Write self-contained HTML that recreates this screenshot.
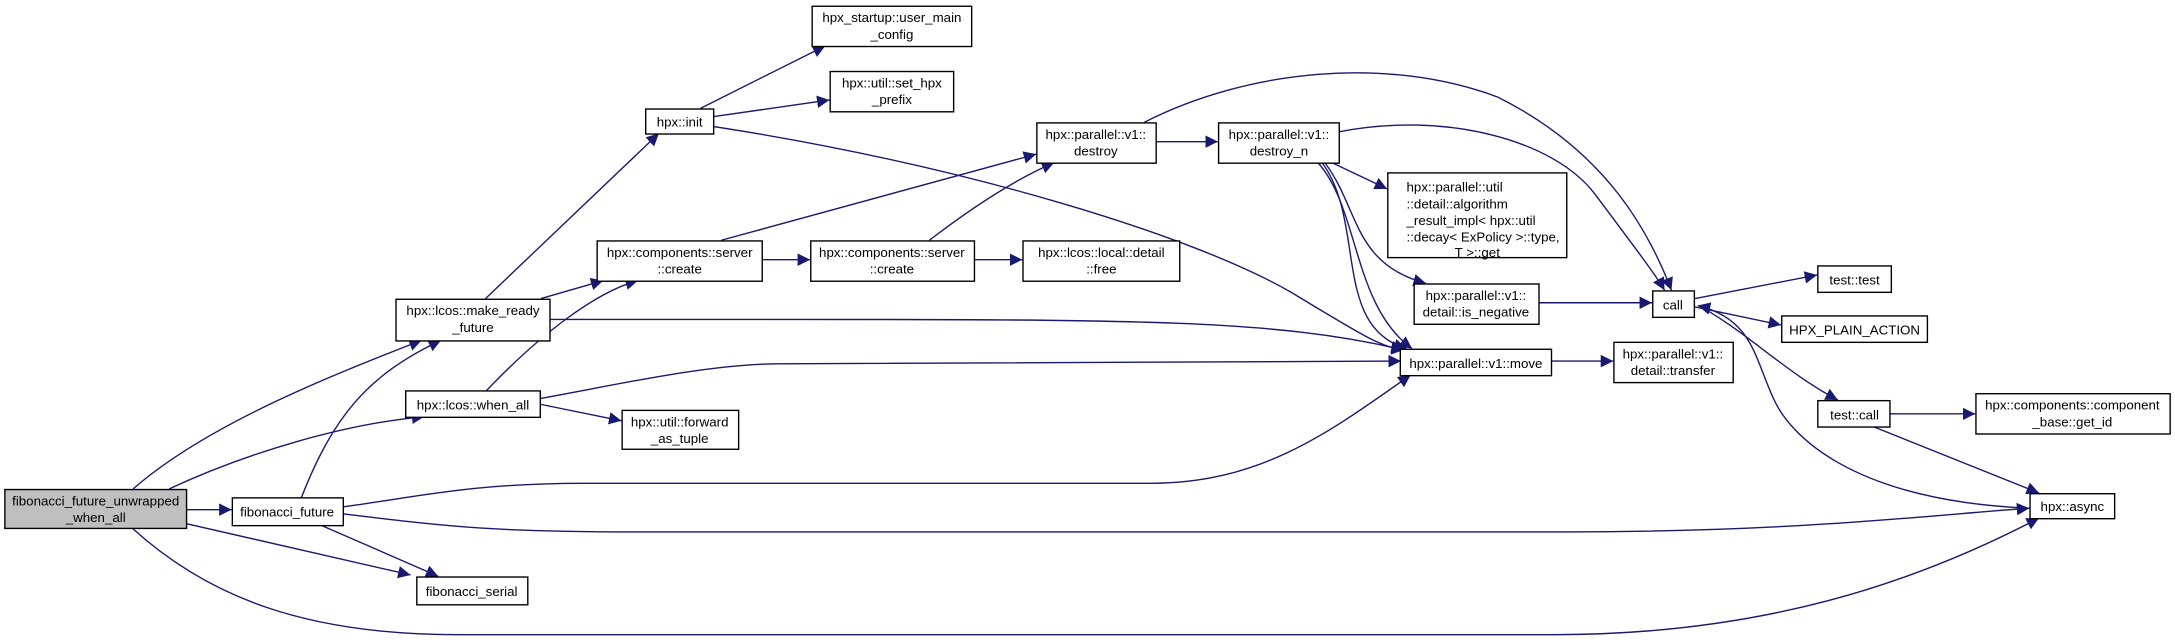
<!DOCTYPE html>
<html><head><meta charset="utf-8"><style>
html,body{margin:0;padding:0;background:#fff;}
svg{display:block;}
text{font-family:"Liberation Sans",Arial,sans-serif;font-size:9.6px;fill:#000;text-anchor:middle;}
.n{fill:#fff;stroke:#000;stroke-width:1;}
.e{fill:none;stroke:#191970;stroke-width:1;}
</style></head><body>
<svg width="2175" height="643" viewBox="0 0 1568 463" preserveAspectRatio="none" xmlns="http://www.w3.org/2000/svg">
<defs><marker id="a" viewBox="0 0 10 10" refX="10" refY="5" markerWidth="9" markerHeight="9" orient="auto" markerUnits="userSpaceOnUse"><path d="M0,0 L10,5 L0,10 z" fill="#191970"/></marker></defs>
<g class="e" marker-end="url(#a)">
<path d="M96,352 C150,305 240,270 304,245"/>
<path d="M122,352 C180,325 250,305 306,300"/>
<path d="M134,367 L167,367"/>
<path d="M134,377 L296,414"/>
<path d="M95,380 C150,430 220,457 330,457 L1120,457 C1270,457 1380,420 1470,373"/>
<path d="M217,359 C240,300 265,270 318,245"/>
<path d="M247,365 C300,358 340,348 420,348 L830,348 C910,348 960,310 1017,270"/>
<path d="M247,370 C330,380 360,383 460,383 L1130,383 C1300,383 1400,370 1463,366"/>
<path d="M231,378 L316,415"/>
<path d="M350,215 L475,96"/>
<path d="M390,215 L435,202"/>
<path d="M396,230 L550,230 C820,230 920,230 1012,252"/>
<path d="M350,282 C390,240 430,210 460,202"/>
<path d="M389,287 C440,278 510,262 560,262 L1010,260"/>
<path d="M389,291 L448,303"/>
<path d="M505,78 L595,33"/>
<path d="M514,84 L598,72"/>
<path d="M514,91 C700,120 860,170 930,210 C980,240 995,250 1012,252"/>
<path d="M520,173 L747,111"/>
<path d="M549,187 L584,187"/>
<path d="M670,173 C700,150 730,130 760,117"/>
<path d="M702,187 L737,187"/>
<path d="M833,102 L878,102"/>
<path d="M825,88 C900,50 1000,40 1080,70 C1160,110 1190,170 1205,209"/>
<path d="M965,95 C1040,80 1120,100 1150,140 C1180,180 1195,200 1200,209"/>
<path d="M960,117 L1000,136"/>
<path d="M955,117 C980,150 975,190 1028,204"/>
<path d="M953,117 C985,160 960,235 1014,251"/>
<path d="M950,117 C980,150 975,220 1018,251"/>
<path d="M1109,218 L1191,218"/>
<path d="M1118,260 L1163,260"/>
<path d="M1222,215 L1310,198"/>
<path d="M1222,221 L1284,234"/>
<path d="M1228,222 C1260,240 1290,270 1325,288"/>
<path d="M1463,366 C1330,360 1290,310 1280,290 C1265,260 1265,230 1224,220"/>
<path d="M1362,298 L1424,298"/>
<path d="M1350,307 L1470,355"/>
</g>
<rect x="3.5" y="352.5" width="131" height="28" fill="#bfbfbf" stroke="#000"/>
<text x="69" y="364">fibonacci_future_unwrapped</text><text x="69" y="376">_when_all</text>
<rect class="n" x="167.5" y="358.5" width="80" height="20"/><text x="207" y="372">fibonacci_future</text>
<rect class="n" x="300.5" y="415.5" width="80" height="20"/><text x="340" y="429">fibonacci_serial</text>
<rect class="n" x="285.5" y="215.5" width="111" height="30"/><text x="341" y="227">hpx::lcos::make_ready</text><text x="341" y="239">_future</text>
<rect class="n" x="292.5" y="281.5" width="97" height="19"/><text x="341" y="295">hpx::lcos::when_all</text>
<rect class="n" x="448.5" y="295.5" width="84" height="28"/><text x="490" y="307">hpx::util::forward</text><text x="490" y="319">_as_tuple</text>
<rect class="n" x="430.5" y="173.5" width="119" height="29"/><text x="490" y="185">hpx::components::server</text><text x="490" y="197">::create</text>
<rect class="n" x="584.5" y="173.5" width="118" height="29"/><text x="643" y="185">hpx::components::server</text><text x="643" y="197">::create</text>
<rect class="n" x="737.5" y="173.5" width="113" height="29"/><text x="794" y="185">hpx::lcos::local::detail</text><text x="794" y="197">::free</text>
<rect class="n" x="465.5" y="78.5" width="49" height="18"/><text x="490" y="91">hpx::init</text>
<rect class="n" x="585.5" y="4.5" width="115" height="29"/><text x="643" y="16">hpx_startup::user_main</text><text x="643" y="28">_config</text>
<rect class="n" x="598.5" y="51.5" width="89" height="29"/><text x="643" y="63">hpx::util::set_hpx</text><text x="643" y="75">_prefix</text>
<rect class="n" x="747.5" y="88.5" width="86" height="29"/><text x="790" y="100">hpx::parallel::v1::</text><text x="790" y="112">destroy</text>
<rect class="n" x="878.5" y="88.5" width="87" height="29"/><text x="922" y="100">hpx::parallel::v1::</text><text x="922" y="112">destroy_n</text>
<rect class="n" x="1000.5" y="124.5" width="129" height="61"/>
<text x="1014" y="138" style="text-anchor:start">hpx::parallel::util</text>
<text x="1014" y="150" style="text-anchor:start">::detail::algorithm</text>
<text x="1014" y="162" style="text-anchor:start">_result_impl&lt; hpx::util</text>
<text x="1014" y="174" style="text-anchor:start">::decay&lt; ExPolicy &gt;::type,</text>
<text x="1065" y="185">T &gt;::get</text>
<rect class="n" x="1019.5" y="204.5" width="90" height="29"/><text x="1064" y="216">hpx::parallel::v1::</text><text x="1064" y="228">detail::is_negative</text>
<rect class="n" x="1009.5" y="251.5" width="109" height="19"/><text x="1064" y="265">hpx::parallel::v1::move</text>
<rect class="n" x="1163.5" y="246.5" width="86" height="29"/><text x="1206" y="258">hpx::parallel::v1::</text><text x="1206" y="270">detail::transfer</text>
<rect class="n" x="1191.5" y="209.5" width="30" height="19"/><text x="1206" y="223">call</text>
<rect class="n" x="1310.5" y="191.5" width="53" height="19"/><text x="1337" y="205">test::test</text>
<rect class="n" x="1284.5" y="227.5" width="105" height="19"/><text x="1337" y="241">HPX_PLAIN_ACTION</text>
<rect class="n" x="1310.5" y="288.5" width="52" height="19"/><text x="1337" y="302">test::call</text>
<rect class="n" x="1424.5" y="283.5" width="140" height="29"/><text x="1494" y="295">hpx::components::component</text><text x="1494" y="307">_base::get_id</text>
<rect class="n" x="1463.5" y="355.5" width="61" height="18"/><text x="1494" y="368">hpx::async</text>
</svg>
</body></html>
